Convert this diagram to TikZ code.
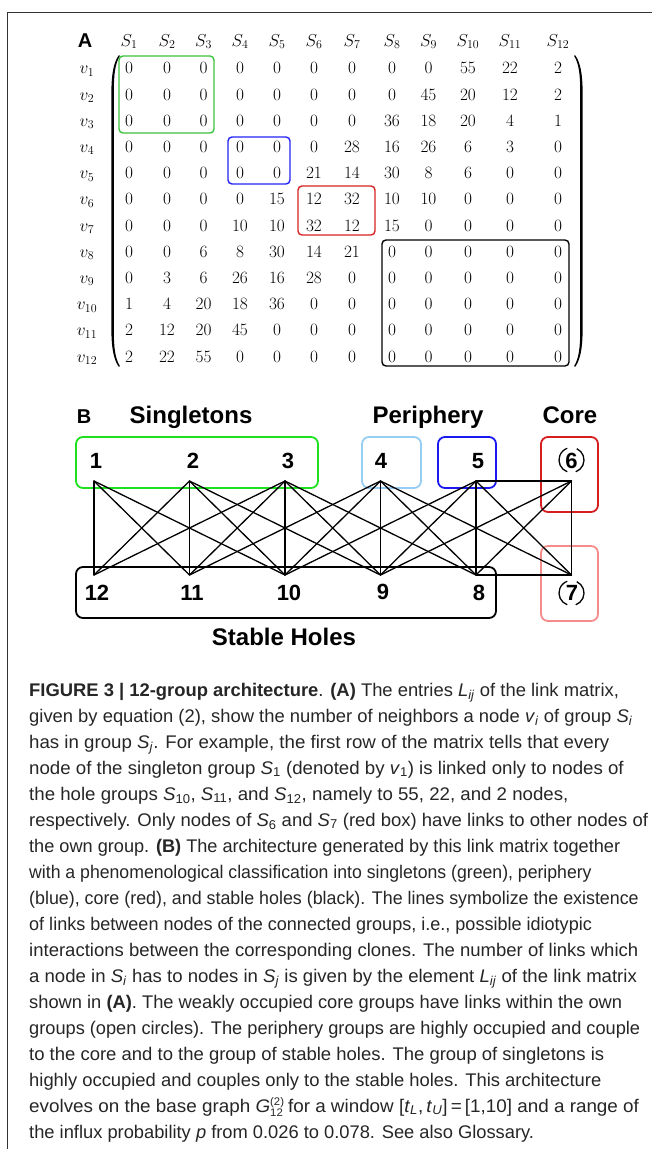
\documentclass[tikz,border=0pt]{standalone}
\usepackage{graphicx}
\usepackage{fontspec}
\setsansfont{Liberation Sans}
\newfontfamily\capfont{Liberation Sans}

\definecolor{mgreen}{RGB}{60,195,60}
\definecolor{mblue}{RGB}{35,35,245}
\definecolor{mred}{RGB}{215,35,35}
\definecolor{ggreen}{RGB}{30,225,30}
\definecolor{glightblue}{RGB}{150,205,245}
\definecolor{gblue}{RGB}{25,25,240}
\definecolor{gred}{RGB}{215,30,30}
\definecolor{gpink}{RGB}{245,140,140}

% italic symbol with a subscript, for the caption
\newcommand\symsub[2]{\textit{#1}\textsubscript{#2}}
% G with the order (2) above and the size 12 below
\newcommand\basegraph{\textit{G}\rlap{\raisebox{6.5pt}{\fontsize{11}{11}\selectfont(2)}}\raisebox{-4pt}{\fontsize{11}{11}\selectfont 12}}

\begin{document}
\begin{tikzpicture}[x=1pt,y=-1pt,
  ent/.style={inner sep=0pt, anchor=base, font=\fontsize{18}{21}\selectfont},
  link/.style={line width=1.3pt, line cap=round},
  grpbox/.style={line width=1.8pt, rounded corners=7pt},
  mbox/.style={line width=1.4pt, rounded corners=4pt},
  title/.style={font=\sffamily\bfseries\fontsize{24}{28}\selectfont, inner sep=0pt, anchor=base},
  num/.style={font=\sffamily\bfseries\fontsize{22}{26}\selectfont, inner sep=0pt, anchor=base},
  loopring/.style={line width=1.3pt},
  capline/.style={anchor=base west, inner sep=0pt, font=\capfont\fontsize{18.3}{22}\selectfont, text=black!85},
]
\fill[white] (0,0) rectangle (652,1149);
\useasboundingbox (0,0) rectangle (652,1149);

% outer frame
\draw[line width=0.8pt, black!80] (7,1149) -- (7,12) -- (652,12);

% ---------------- panel A: link matrix ----------------
\node[title, font=\sffamily\bfseries\fontsize{20}{24}\selectfont] (labA) at (85,47) {A};

\foreach \c in {1,...,12}{
  \pgfmathsetmacro{\xx}{{129,167,203.6,240,277,314,352,392,428.5,468,510,558}[\c-1]}
  \node[ent] (s\c) at (\xx,46) {$S_{\c}$};
}

\foreach \r/\row in {
 1/{0,0,0,0,0,0,0,0,0,55,22,2},
 2/{0,0,0,0,0,0,0,0,45,20,12,2},
 3/{0,0,0,0,0,0,0,36,18,20,4,1},
 4/{0,0,0,0,0,0,28,16,26,6,3,0},
 5/{0,0,0,0,0,21,14,30,8,6,0,0},
 6/{0,0,0,0,15,12,32,10,10,0,0,0},
 7/{0,0,0,10,10,32,12,15,0,0,0,0},
 8/{0,0,6,8,30,14,21,0,0,0,0,0},
 9/{0,3,6,26,16,28,0,0,0,0,0,0},
 10/{1,4,20,18,36,0,0,0,0,0,0,0},
 11/{2,12,20,45,0,0,0,0,0,0,0,0},
 12/{2,22,55,0,0,0,0,0,0,0,0,0}}{
  \pgfmathsetmacro{\yy}{68+26.2*(\r-1)+5.8}
  \node[ent] (v\r) at (87,\yy) {$v_{\r}$};
  \foreach \v [count=\c] in \row {
    \pgfmathsetmacro{\xx}{{129,167,203.6,240,277,314,352,392,428.5,468,510,558}[\c-1]}
    \node[ent] (m-\r-\c) at (\xx,\yy) {$\v$};
  }
}

% matrix delimiters, drawn as tapered strokes
\fill (119,55) .. controls (113.5,62) and (111.4,75) .. (111.4,92)
      -- (111.4,330) .. controls (111.4,347) and (113.5,360) .. (119,367)
      -- (119.8,366) .. controls (115,358) and (113.8,347) .. (113.8,330)
      -- (113.8,92) .. controls (113.8,75) and (115,64) .. (119.8,56) -- cycle;
\fill (575,55) .. controls (580.5,62) and (582.6,75) .. (582.6,92)
      -- (582.6,330) .. controls (582.6,347) and (580.5,360) .. (575,367)
      -- (574.2,366) .. controls (579,358) and (580.2,347) .. (580.2,330)
      -- (580.2,92) .. controls (580.2,75) and (579,64) .. (574.2,56) -- cycle;

% block boxes
\draw[mbox, mgreen] (119,56) rectangle (214,133);
\draw[mbox, mblue]  (228,137) rectangle (290,184);
\draw[mbox, mred]   (298,186) rectangle (375,235);
\draw[mbox, black]  (382,240) rectangle (569,366);

% ---------------- panel B: architecture ----------------
\node[title, font=\sffamily\bfseries\fontsize{20}{24}\selectfont] (labB) at (84,423) {B};
\node[title] (tsing) at (191,423) {Singletons};
\node[title] (tper) at (428,423) {Periphery};
\node[title] (tcore) at (570,423) {Core};
\node[title] (thole) at (284,645) {Stable Holes};

% group boxes
\draw[grpbox, ggreen]     (76,437) rectangle (318,488);
\draw[grpbox, glightblue] (362,437) rectangle (421,488);
\draw[grpbox, gblue]      (438,437) rectangle (496,488);
\draw[grpbox, gred]       (541,437) rectangle (598,512);
\draw[grpbox, gpink]      (541,546) rectangle (598,621);
\draw[grpbox, black]      (76,567) rectangle (496,618);

% link end points: groups 1..6 on top, 12..7 below
\foreach \k [count=\i] in {94,189.5,285,380.5,476,571.5}{
  \pgfmathtruncatemacro{\j}{13-\i}
  \coordinate (p\i) at (\k,481);
  \coordinate (p\j) at (\k,575);
}

% links between groups
\foreach \a/\b in {1/12,1/11,1/10,
                   2/12,2/11,2/10,2/9,
                   3/12,3/11,3/10,3/9,3/8,
                   4/11,4/10,4/9,4/8,4/7,
                   5/10,5/9,5/8,5/7,5/6,
                   6/9,6/8,6/7,
                   8/7}{
  \draw[link] (p\a) -- (p\b);
}

% group numbers
\node[num] (n1) at (96,468) {1};
\node[num] (n2) at (193,468) {2};
\node[num] (n3) at (288,468) {3};
\node[num] (n4) at (381,468) {4};
\node[num] (n5) at (478,468) {5};
\node[num] (n6) at (571.5,468) {6};
\node[num] (n12) at (97,600) {12};
\node[num] (n11) at (192,600) {11};
\node[num] (n10) at (289,600) {10};
\node[num] (n9) at (383,599) {9};
\node[num] (n8) at (479,600) {8};
\node[num] (n7) at (572,600) {7};

% open circles: links inside the core groups
\foreach \g/\cy in {6/460,7/593}{
  \draw[loopring] ([shift={(110:12.5)}]571.5,\cy) arc[start angle=110, end angle=250, radius=12.5];
  \draw[loopring] ([shift={(-65:12.5)}]571.5,\cy) arc[start angle=-65, end angle=70, radius=12.5];
}

% ---------------- caption (one line per node, each set to its measure) ----------------
\foreach \s/\t [count=\i] in {
 1.005/{{\bfseries FIGURE 3 | 12-group architecture}. {\bfseries (A)} The entries \symsub{L}{\textit{ij}} of the link matrix,},
 1.005/{given by equation (2), show the number of neighbors a node \symsub{v}{\textit{i}} of group \symsub{S}{\textit{i}}},
 1.02/{has in group \symsub{S}{\textit{j}}. For example, the first row of the matrix tells that every},
 1.02/{node of the singleton group \symsub{S}{1} (denoted by \symsub{v}{1}) is linked only to nodes of},
 1.02/{the hole groups \symsub{S}{10}, \symsub{S}{11}, and \symsub{S}{12}, namely to 55, 22, and 2 nodes,},
 1.01/{respectively. Only nodes of \symsub{S}{6} and \symsub{S}{7} (red box) have links to other nodes of},
 0.992/{the own group. {\bfseries (B)} The architecture generated by this link matrix together},
 0.965/{with a phenomenological classification into singletons (green), periphery},
 0.975/{(blue), core (red), and stable holes (black). The lines symbolize the existence},
 0.986/{of links between nodes of the connected groups, i.e., possible idiotypic},
 1.012/{interactions between the corresponding clones. The number of links which},
 1.015/{a node in \symsub{S}{\textit{i}} has to nodes in \symsub{S}{\textit{j}} is given by the element \symsub{L}{\textit{ij}} of the link matrix},
 1.0/{shown in {\bfseries (A)}. The weakly occupied core groups have links within the own},
 0.995/{groups (open circles). The periphery groups are highly occupied and couple},
 1.01/{to the core and to the group of stable holes. The group of singletons is},
 1.005/{highly occupied and couples only to the stable holes. This architecture},
 1.03/{evolves on the base graph \basegraph{} for a window [\symsub{t}{\textit{L}},\,\symsub{t}{\textit{U}}]\,=\,[1,10] and a range of},
 1.0/{the influx probability \textit{p} from 0.026 to 0.078. See also Glossary.}}{
  \node[capline] (cap\i) at (29,{696+26*(\i-1)}) {\scalebox{\s}[1]{\t}};
}
\end{tikzpicture}
\end{document}
